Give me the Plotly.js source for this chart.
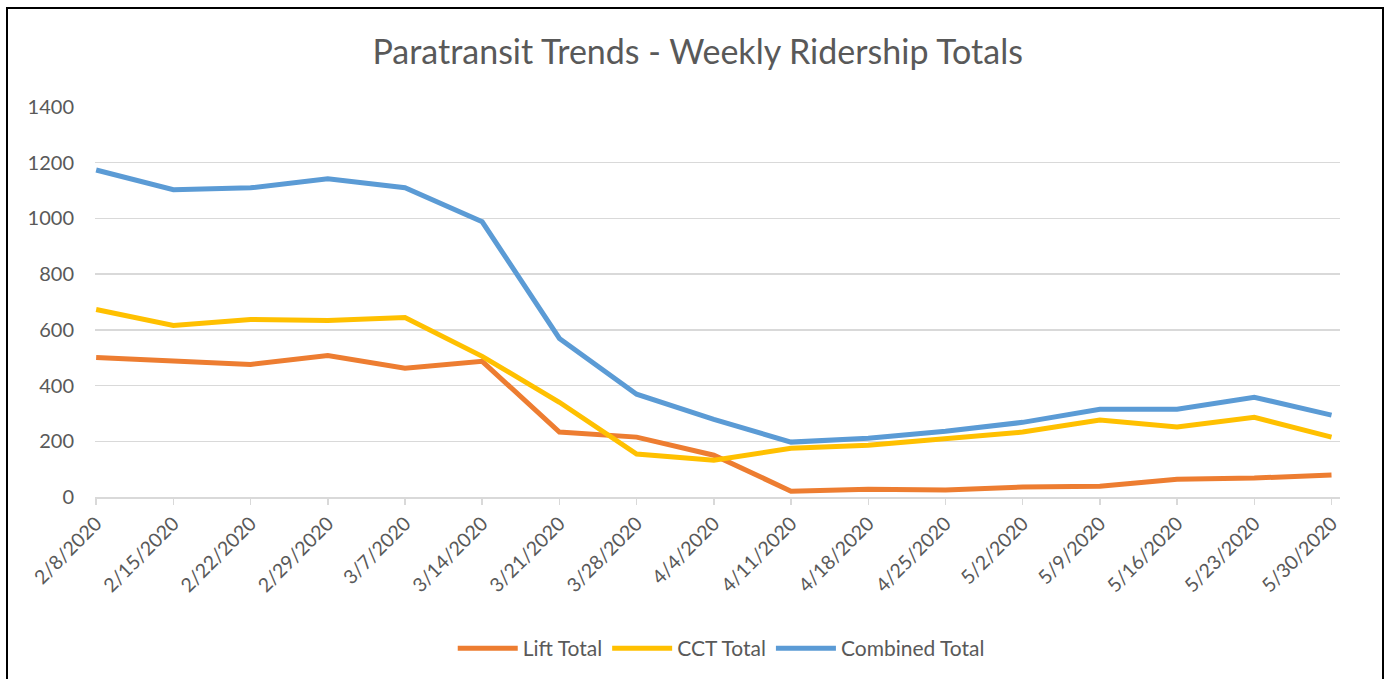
<!DOCTYPE html>
<html>
<head>
<meta charset="utf-8">
<script src="https://cdn.plot.ly/plotly-3.0.1.min.js"></script>
<style>
html,body{margin:0;padding:0;background:#fff;}
#wrap{position:relative;width:1387px;height:679px;overflow:hidden;}
#chart{position:absolute;left:0;top:0;width:1387px;height:679px;}
#frame{position:absolute;left:6px;top:7px;width:1374px;height:700px;border:2px solid #000;pointer-events:none;}
</style>
</head>
<body>
<div id="wrap"><div id="chart"></div><div id="frame"></div></div>
<script>
const categories = ["2/8/2020","2/15/2020","2/22/2020","2/29/2020","3/7/2020","3/14/2020","3/21/2020","3/28/2020","4/4/2020","4/11/2020","4/18/2020","4/25/2020","5/2/2020","5/9/2020","5/16/2020","5/23/2020","5/30/2020"];
const liftTotal = [501,487,476,508,462,487,233,215,150,21,28,25,36,39,64,68,79];
const cctTotal = [673,616,637,634,644,505,340,154,132,175,186,211,233,276,251,286,215];
const combinedTotal = [1174,1103,1110,1142,1110,988,569,369,279,197,211,236,268,315,315,358,294];
const yTicks = [0,200,400,600,800,1000,1200,1400];

const font = "Lato, 'Open Sans', sans-serif";
const gray = "#595959";
const idx = categories.map((_, i) => i);

function tr(name, y, color){
  return {x: idx, y: y, name: name, type: "scatter", mode: "lines",
    line: {color: color, width: 5}, hoverinfo: "y"};
}

const data = [
  tr("Lift Total", liftTotal, "#ED7D31"),
  tr("CCT Total", cctTotal, "#FFC000"),
  tr("Combined Total", combinedTotal, "#5B9BD5")
];

const layout = {
  width: 1387, height: 679,
  paper_bgcolor: "#fff", plot_bgcolor: "#fff",
  margin: {l: 95, r: 47, t: 107, b: 181},
  title: {text: "Paratransit Trends - Weekly Ridership Totals",
    font: {family: font, size: 34, color: gray}, x: 0.503, xanchor: "center", y: 0.923, yanchor: "middle"},
  showlegend: true,
  legend: {orientation: "h", x: 0.503, xanchor: "center", y: -0.385, yanchor: "middle",
    font: {family: font, size: 21, color: gray}, itemwidth: 60, tracegroupgap: 0, entrywidth: 0},
  xaxis: {
    range: [-0.015, 16.11], tickmode: "array", tickvals: idx, ticktext: categories,
    tickangle: -45, tickfont: {family: font, size: 19.5, color: gray},
    showgrid: false, zeroline: false, showline: true, linecolor: "#d9d9d9", linewidth: 1.5,
    ticks: "outside", ticklen: 6, tickcolor: "#d9d9d9", tickwidth: 1.5, fixedrange: true
  },
  yaxis: {
    range: [0, 1400], tickmode: "array", tickvals: yTicks,
    tickfont: {family: font, size: 20, color: gray},
    showgrid: true, gridcolor: "#d9d9d9", gridwidth: 1.5, zeroline: false, showline: false,
    ticks: "", ticklabelstandoff: 20, fixedrange: true
  }
};

Plotly.newPlot("chart", data, layout, {displayModeBar: false, staticPlot: true});
</script>
</body>
</html>
